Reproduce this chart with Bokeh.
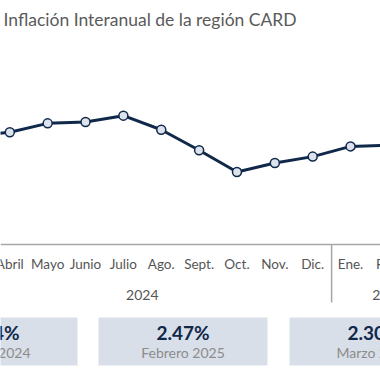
from bokeh.plotting import figure
from bokeh.models import Range1d, ColumnDataSource, Span
from bokeh.embed import file_html
from bokeh.resources import INLINE
from bokeh.core.properties import value

# ---------------- data ----------------
months = ["Marzo", "Abril", "Mayo", "Junio", "Julio", "Ago.", "Sept.", "Oct.",
          "Nov.", "Dic.", "Ene.", "Feb.", "Marzo"]
years = ["2024"] * 10 + ["2025"] * 3
inflation = [2.54, 2.57, 2.64, 2.65, 2.70, 2.59, 2.43, 2.26, 2.33, 2.38, 2.46, 2.47, 2.30]
card_values = ["2.54%", "2.47%", "2.30%"]
card_labels = ["Marzo 2024", "Febrero 2025", "Marzo 2025"]
title = "Inflación Interanual de la región CARD"

# ---------------- layout helpers ----------------
W, H = 380, 380
X0, X1 = 0.7544, 10.791
Y0, Y1 = 0.6309, 3.5997


def dx(px):
    return X0 + px / W * (X1 - X0)


def dy(py):
    return Y1 - py / H * (Y1 - Y0)


NAVY = "#10284a"
FONT = value("Lato")

p = figure(width=W, height=H, x_range=Range1d(X0, X1), y_range=Range1d(Y0, Y1),
           output_backend="svg", toolbar_location=None, min_border=0,
           x_axis_type=None, y_axis_type=None, outline_line_color=None,
           background_fill_color="white", border_fill_color="white")
p.grid.visible = False

idx = list(range(len(months)))
src = ColumnDataSource(dict(x=idx, y=inflation, m=months))

# title
p.text(x=[dx(3)], y=[dy(19)], text=[title], text_font=FONT, text_font_size="17.5px",
       text_color="#5a5a5a", text_align="left", text_baseline="middle")

# line + markers
p.line("x", "y", source=src, line_color=NAVY, line_width=3)
p.scatter("x", "y", source=src, size=9, fill_color="#dce3ed", line_color=NAVY, line_width=1.5)

# category axis (months + years)
p.add_layout(Span(location=dy(244), dimension="width", line_color="#a6a6a6", line_width=1.5))
p.text(x="x", y=dy(263), text="m", source=src, text_font=FONT, text_font_size="13.5px",
       text_color="#555555", text_align="center", text_baseline="middle")

yr_names = []
yr_centers = []
for yname in dict.fromkeys(years):
    ii = [i for i, yy in enumerate(years) if yy == yname]
    yr_names.append(yname)
    yr_centers.append(sum(ii) / len(ii))
p.text(x=yr_centers, y=[dy(294)] * len(yr_names), text=yr_names, text_font=FONT,
       text_font_size="14px", text_color="#555555", text_align="center", text_baseline="middle")

# group separators
seps = [i + 0.5 for i in range(len(years) - 1) if years[i] != years[i + 1]]
p.segment(x0=seps, x1=seps, y0=[dy(244)] * len(seps), y1=[dy(302)] * len(seps),
          line_color="#a6a6a6", line_width=1.5)

# cards
card_left = [-92, 98, 289]
card_w = 169
lefts = [dx(l) for l in card_left]
rights = [dx(l + card_w) for l in card_left]
centers = [dx(l + card_w / 2) for l in card_left]
p.quad(left=lefts, right=rights, top=[dy(317)] * 3, bottom=[dy(365)] * 3,
       fill_color="#d9dfe8", line_color=None)
p.text(x=centers, y=[dy(332)] * 3, text=card_values, text_font=FONT, text_font_size="19px",
       text_font_style="bold", text_color=NAVY, text_align="center", text_baseline="middle")
p.text(x=centers, y=[dy(352)] * 3, text=card_labels, text_font=FONT, text_font_size="14px",
       text_color="#8c8c8c", text_align="center", text_baseline="middle")

open("out.html", "w").write(file_html(p, INLINE))
